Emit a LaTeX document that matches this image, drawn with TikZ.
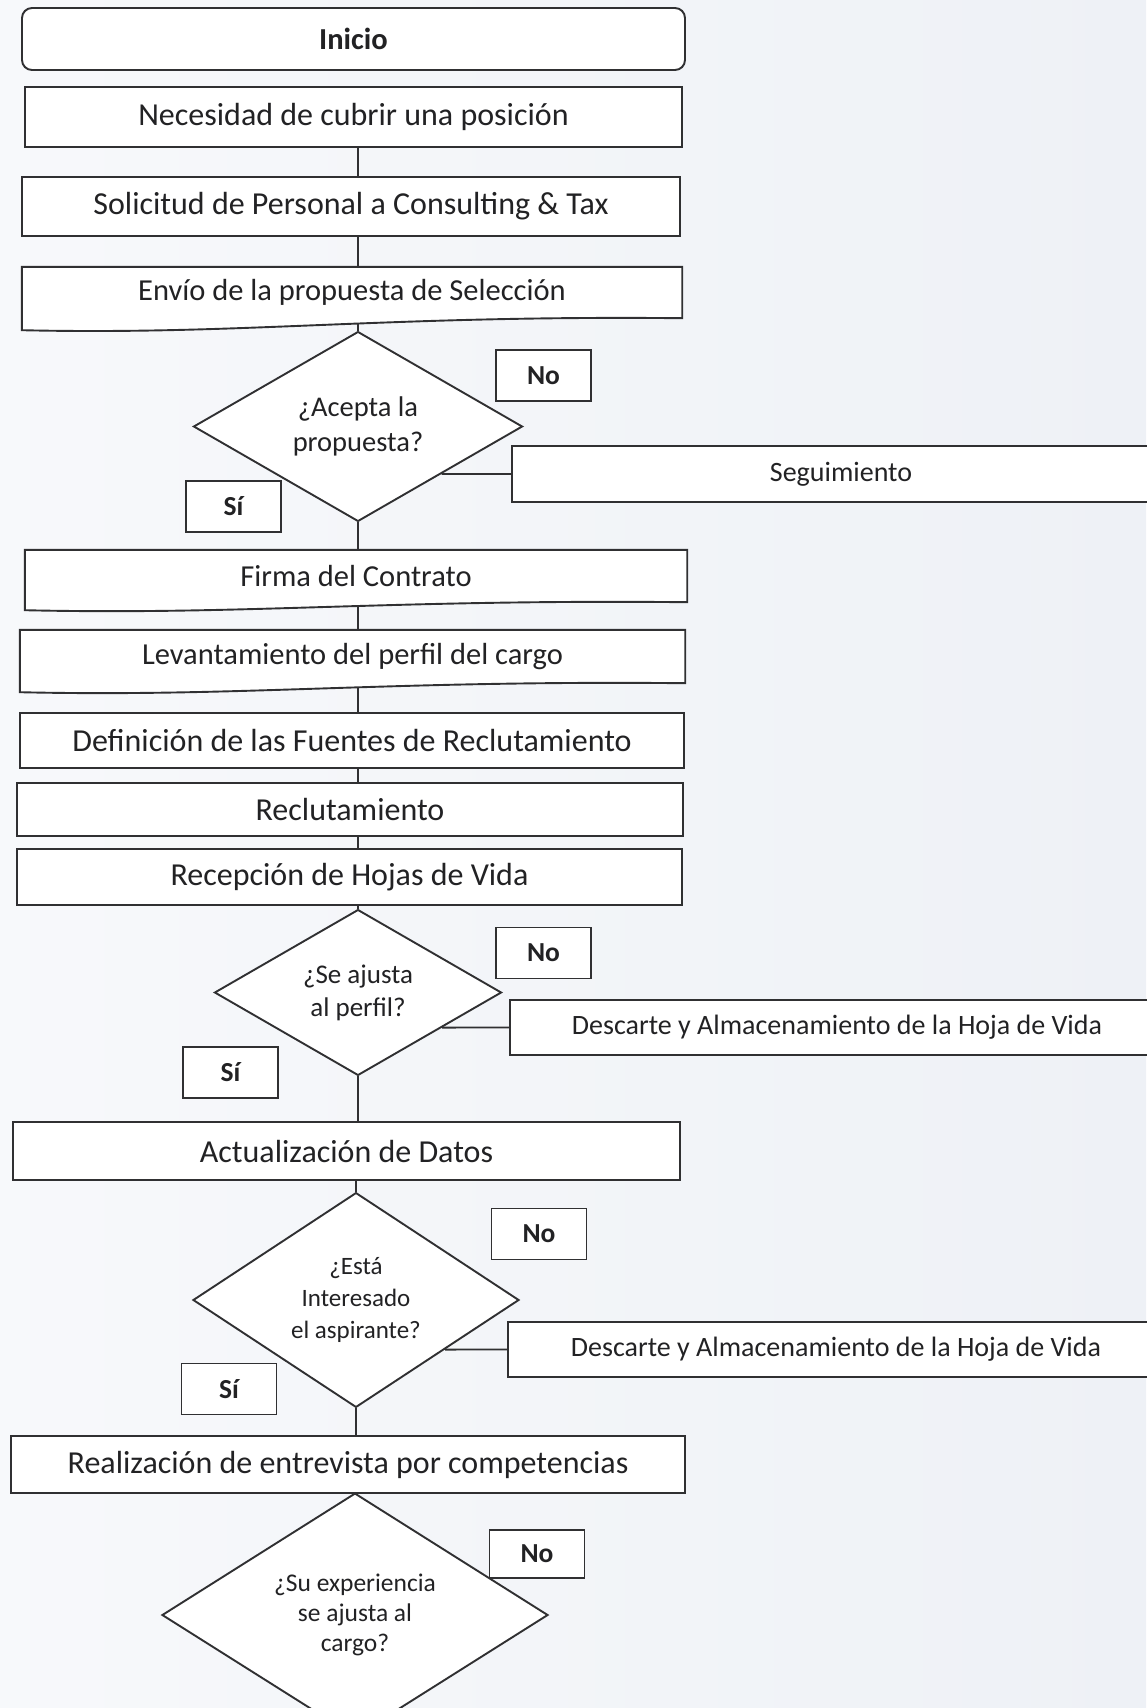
\documentclass[tikz,border=0pt]{standalone}
\usepackage{fontspec}
\setmainfont{Carlito}
\usetikzlibrary{shapes.geometric,calc}
\definecolor{ln}{RGB}{48,48,50}
\definecolor{tx}{RGB}{34,34,36}
\definecolor{bgr}{RGB}{238,241,246}
\pgfdeclarelayer{bglayer}
\pgfdeclarelayer{linelayer}
\pgfdeclarelayer{shapelayer}
\pgfsetlayers{bglayer,linelayer,shapelayer,main}
\tikzset{
  boxline/.style={draw=ln, line width=1.9pt},
  proc/.style={boxline, fill=white, rectangle, inner sep=0pt, text=tx, font=\fontsize{32}{38}\selectfont},
  wavebox/.style={rectangle, inner sep=0pt, text=tx, font=\fontsize{30.5}{36}\selectfont},
  startbox/.style={proc, rounded corners=10pt, font=\bfseries\fontsize{30.5}{36}\selectfont},
  decision/.style={boxline, fill=white, diamond, inner sep=0pt, align=center, text=tx},
  answer/.style={boxline, fill=white, rectangle, inner sep=0pt, minimum width=95pt, minimum height=51pt, font=\bfseries\fontsize{27.5}{33}\selectfont, text=tx},
  sidebox/.style={draw=ln, line width=2.3pt, fill=white, rectangle, inner sep=0pt, text=tx, font=\fontsize{28}{34}\selectfont},
  conn/.style={draw=ln, line width=1.9pt},
}
\begin{document}
\begin{tikzpicture}[x=1pt,y=-1pt]
\useasboundingbox (0,0) rectangle (1146,1708);
\begin{pgfonlayer}{bglayer}
  \shade[left color=bgr!45, middle color=white, right color=bgr] (0,0) rectangle (1146,1708);
\end{pgfonlayer}

% main column
\node[startbox, minimum width=663pt, minimum height=62pt] (ini) at (353.5,39) {Inicio};
\node[proc, minimum width=657pt, minimum height=60pt] (nec) at (353.5,117) {Necesidad de cubrir una posición};
\node[proc, minimum width=658pt, minimum height=59pt] (sol) at (351,206.5) {Solicitud de Personal a Consulting \& Tax};
\node[wavebox, minimum width=660pt, minimum height=51pt] (env) at (352,292.5) {Envío de la propuesta de Selección};
\node[decision, minimum width=329pt, minimum height=153pt, font=\fontsize{28.5}{35}\selectfont] (d1) at (358,426.5) {¿Acepta la\\propuesta?};
\node[answer] (no1) at (543.5,375.5) {No};
\node[answer] (si1) at (233.5,506.5) {Sí};
\node[sidebox, minimum width=658pt, minimum height=56pt] (seg) at (841,474) {Seguimiento};

\node[wavebox, minimum width=662pt, minimum height=52pt] (fir) at (356,576) {Firma del Contrato};
\node[wavebox, minimum width=665pt, minimum height=53pt] (lev) at (352.5,656.5) {Levantamiento del perfil del cargo};
\node[proc, minimum width=664pt, minimum height=55pt] (def) at (352,740.5) {Definición de las Fuentes de Reclutamiento};
\node[proc, minimum width=666pt, minimum height=53pt] (rec) at (350,809.5) {Reclutamiento};
\node[proc, minimum width=665pt, minimum height=56pt] (hoj) at (349.5,877) {Recepción de Hojas de Vida};

\node[decision, minimum width=287pt, minimum height=151pt, font=\fontsize{27}{33}\selectfont] (d2) at (358,992.5) {¿Se ajusta\\al perfil?};
\node[answer] (no2) at (543.5,953) {No};
\node[answer] (si2) at (230.5,1072.5) {Sí};
\node[sidebox, minimum width=654pt, minimum height=55pt] (ds1) at (837,1027.5) {Descarte y Almacenamiento de la Hoja de Vida};

\node[proc, minimum width=667pt, minimum height=58pt] (act) at (346.5,1151) {Actualización de Datos};
\node[decision, minimum width=326pt, minimum height=204pt, font=\fontsize{25}{32}\selectfont] (d3) at (356,1300) {¿Está\\Interesado\\el aspirante?};
\node[answer] (no3) at (539,1234) {No};
\node[answer] (si3) at (229,1389) {Sí};
\node[sidebox, minimum width=656pt, minimum height=55pt] (ds2) at (836,1349.5) {Descarte y Almacenamiento de la Hoja de Vida};

\node[proc, minimum width=674pt, minimum height=57pt] (rea) at (348,1464.5) {Realización de entrevista por competencias};
\node[decision, minimum width=386pt, minimum height=200pt, font=\fontsize{25.5}{30}\selectfont] (d4) at (355,1615) {¿Su experiencia\\se ajusta al\\cargo?};
\node[answer, minimum height=48pt] (no4) at (537,1554) {No};

% document-shaped outlines
\begin{pgfonlayer}{shapelayer}
  \filldraw[boxline, fill=white] (env.south east) -- (env.north east) -- (env.north west) -- ($(env.south west)+(0,12)$)
    .. controls ($(env.south west)+(220,17)$) and ($(env.south east)+(-300,-3)$) .. (env.south east) -- cycle;
  \filldraw[boxline, fill=white] (fir.south east) -- (fir.north east) -- (fir.north west) -- ($(fir.south west)+(0,8)$)
    .. controls ($(fir.south west)+(220,13)$) and ($(fir.south east)+(-300,-3)$) .. (fir.south east) -- cycle;
  \filldraw[boxline, fill=white] (lev.south east) -- (lev.north east) -- (lev.north west) -- ($(lev.south west)+(0,9)$)
    .. controls ($(lev.south west)+(220,14)$) and ($(lev.south east)+(-300,-3)$) .. (lev.south east) -- cycle;
\end{pgfonlayer}

% connectors
\coordinate (h1) at (seg.west -| d1.center);
\coordinate (h2) at (ds1.west -| d2.center);
\coordinate (h3) at (ds2.west -| d3.center);
\begin{pgfonlayer}{linelayer}
  \draw[conn] (nec.south -| d1.north) -- (sol.north -| d1.north);
  \draw[conn] (sol.south -| d1.north) -- (env.north -| d1.north);
  \draw[conn] (env.south -| d1.north) -- (d1.north);
  \draw[conn] (d1.south) -- (fir.north -| d1.south);
  \draw[conn] (fir.south -| d1.south) -- (lev.north -| d1.south);
  \draw[conn] (lev.south -| d1.south) -- (def.north -| d1.south);
  \draw[conn] (def.south -| d2.north) -- (rec.north -| d2.north);
  \draw[conn] (rec.south -| d2.north) -- (hoj.north -| d2.north);
  \draw[conn] (hoj.south -| d2.north) -- (d2.north);
  \draw[conn] (d2.south) -- (act.north -| d2.south);
  \draw[conn] (act.south -| d3.north) -- (d3.north);
  \draw[conn] (d3.south) -- (rea.north -| d3.south);
  \draw[conn] (rea.south -| d4.north) -- (d4.north);
  \draw[conn] (seg.west) -- (intersection of seg.west--h1 and d1.east--d1.south);
  \draw[conn] (ds1.west) -- (intersection of ds1.west--h2 and d2.east--d2.south);
  \draw[conn] (ds2.west) -- (intersection of ds2.west--h3 and d3.east--d3.south);
\end{pgfonlayer}
\end{tikzpicture}
\end{document}
